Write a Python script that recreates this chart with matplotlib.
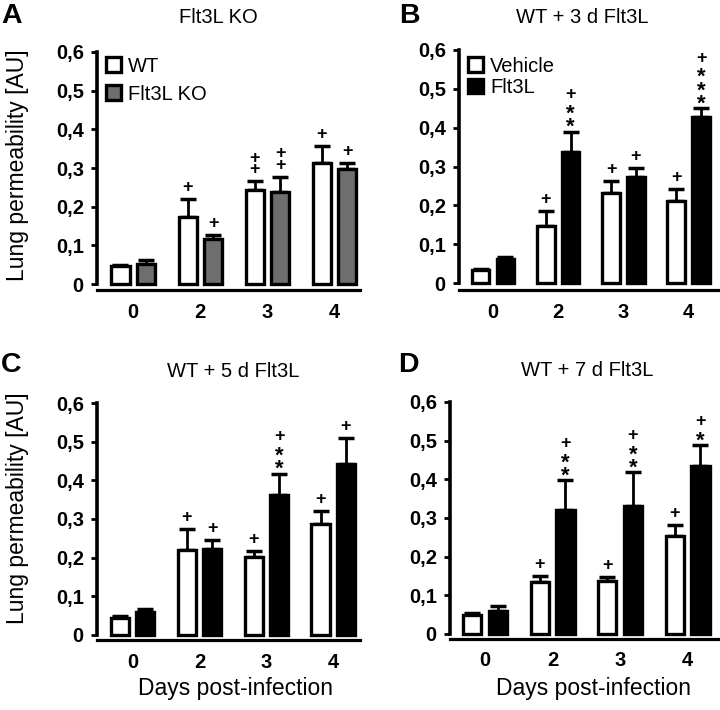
import matplotlib
matplotlib.use("Agg")
import matplotlib.pyplot as plt
from matplotlib.patches import Patch
import numpy as np

plt.rcParams['font.family'] = ['Liberation Sans', 'DejaVu Sans']

# ---------------- data ----------------
days = ['0', '2', '3', '4']
ytick_vals = [0, 0.1, 0.2, 0.3, 0.4, 0.5, 0.6]
ytick_labels = ['0', '0,1', '0,2', '0,3', '0,4', '0,5', '0,6']

A_wt = [0.047, 0.172, 0.243, 0.314]
A_wt_err = [0.003, 0.049, 0.023, 0.043]
A_ko = [0.053, 0.116, 0.238, 0.297]
A_ko_err = [0.009, 0.012, 0.039, 0.017]
A_wt_sig = ['', '+', '++', '+']
A_ko_sig = ['', '+', '++', '+']

B_veh = [0.034, 0.148, 0.233, 0.210]
B_veh_err = [0.002, 0.038, 0.030, 0.033]
B_flt = [0.063, 0.338, 0.272, 0.427]
B_flt_err = [0.004, 0.052, 0.025, 0.023]
B_veh_sig = ['', '+', '+', '+']
B_flt_sig = ['', '+**', '+', '+***']

C_veh = [0.045, 0.221, 0.202, 0.288]
C_veh_err = [0.004, 0.054, 0.016, 0.033]
C_flt = [0.060, 0.222, 0.361, 0.442]
C_flt_err = [0.006, 0.023, 0.056, 0.068]
C_veh_sig = ['', '+', '+', '+']
C_flt_sig = ['', '+', '+**', '+']

D_veh = [0.048, 0.135, 0.137, 0.253]
D_veh_err = [0.005, 0.015, 0.011, 0.028]
D_flt = [0.060, 0.321, 0.330, 0.434]
D_flt_err = [0.013, 0.076, 0.088, 0.054]
D_veh_sig = ['', '+', '+', '+']
D_flt_sig = ['', '+**', '+**', '+*']

W, H = 720, 710
fig = plt.figure(figsize=(W / 100, H / 100), dpi=100)


def px_axes(left, right, top, bottom):
    return fig.add_axes([left / W, 1 - bottom / H, (right - left) / W, (bottom - top) / H])


PLUS_FS = 13
STAR_FS = 16
EM_P = PLUS_FS / 0.72
EM_S = STAR_FS / 0.72


def put(ax, x, ytop, txt, off_px, va, fs, ls=1.0):
    ax.annotate(txt, xy=(x, ytop), xytext=(0, off_px * 0.72), textcoords='offset points',
                ha='center', va=va, fontsize=fs, fontweight='bold', color='black',
                linespacing=ls)


def draw_sig(ax, x, ytop, sig):
    if not sig:
        return
    n_star = sig.count('*')
    n_plus = sig.count('+')
    if n_star:
        pitch = 13.0
        ls = (pitch - 0.21 * EM_S) / (0.73 * EM_S)
        base = 11.0
        put(ax, x, ytop, '\n'.join(['*'] * n_star), base - 0.78 * EM_S, 'bottom', STAR_FS, ls)
        top_star = base + (n_star - 1) * pitch
        put(ax, x, ytop, '+', top_star + 15 - 0.35 * EM_P, 'baseline', PLUS_FS)
    else:
        pitch = 11.5
        ls = (pitch - 0.21 * EM_P) / (0.73 * EM_P)
        put(ax, x, ytop, '\n'.join(['+'] * n_plus), 13 - 0.56 * EM_P, 'bottom', PLUS_FS, ls)


def panel(rect, xlim, ymin, s1, e1, s2, e2, sig1, sig2, fill2, title, letter,
          title_xy, letter_xy, ylabel, xlabel):
    ax = px_axes(*rect)
    x = np.arange(len(days))
    off, w = 0.19, 0.27
    for xs, vals, errs, fc in [(x - off, s1, e1, 'white'), (x + off, s2, e2, fill2)]:
        ax.errorbar(xs, vals, yerr=[np.zeros(len(vals)), errs], fmt='none', ecolor='black',
                    elinewidth=2, capsize=5.5, capthick=2.5, zorder=1)
        ax.bar(xs, vals, width=w, color=fc, edgecolor='black', linewidth=2.4, zorder=2)
    for xi, v, e, s in zip(x - off, s1, e1, sig1):
        draw_sig(ax, xi, v + e, s)
    for xi, v, e, s in zip(x + off, s2, e2, sig2):
        draw_sig(ax, xi, v + e, s)
    ax.set_xlim(*xlim)
    ax.set_ylim(ymin, 0.6)
    for sp in ['top', 'right']:
        ax.spines[sp].set_visible(False)
    ax.spines['left'].set_linewidth(2.6)
    ax.spines['left'].set_bounds(0, 0.6)
    ax.spines['bottom'].set_linewidth(2.3)
    ax.set_yticks(ytick_vals)
    ax.set_yticklabels(ytick_labels, fontweight='bold', fontsize=14.5)
    ax.set_xticks(x)
    ax.set_xticklabels(days, fontweight='bold', fontsize=14.5)
    ax.tick_params(axis='y', length=4.5, width=2, pad=5)
    ax.tick_params(axis='x', length=0, pad=9)
    fig.text(title_xy[0] / W, 1 - title_xy[1] / H, title, ha='center', va='baseline', fontsize=14.5)
    fig.text(letter_xy[0] / W, 1 - letter_xy[1] / H, letter, ha='left', va='baseline',
             fontsize=20.5, fontweight='bold')
    if ylabel:
        fig.text(18 / W, 1 - ylabel / H, 'Lung permeability [AU]', rotation=90,
                 ha='center', va='center', fontsize=16.5)
    if xlabel:
        fig.text(xlabel[0] / W, 1 - xlabel[1] / H, 'Days post-infection', ha='center',
                 va='center', fontsize=16.5)
    return ax


axA = panel((97, 360, 52, 290), (-0.54, 3.38), -0.0155, A_wt, A_wt_err, A_ko, A_ko_err,
            A_wt_sig, A_ko_sig, '#6e6e6e', 'Flt3L KO', 'A', (218, 23), (1, 23), 165, None)
axB = panel((459, 718, 50, 290), (-0.52, 3.45), -0.018, B_veh, B_veh_err, B_flt, B_flt_err,
            B_veh_sig, B_flt_sig, 'black', 'WT + 3 d Flt3L', 'B', (582, 23), (399, 23), None, None)
axC = panel((97, 360, 403, 640), (-0.53, 3.4), -0.013, C_veh, C_veh_err, C_flt, C_flt_err,
            C_veh_sig, C_flt_sig, 'black', 'WT + 5 d Flt3L', 'C', (233, 377), (1, 372), 508, (235, 688))
axD = panel((450, 718, 402, 639), (-0.52, 3.45), -0.013, D_veh, D_veh_err, D_flt, D_flt_err,
            D_veh_sig, D_flt_sig, 'black', 'WT + 7 d Flt3L', 'D', (587, 376), (398, 372), None, (593, 688))

for ax, labels, fc2, sp, top in [(axA, ['WT', 'Flt3L KO'], '#6e6e6e', 0.45, 1.04),
                                 (axB, ['Vehicle', 'Flt3L'], 'black', 0.1, 1.03)]:
    handles = [Patch(facecolor='white', edgecolor='black', linewidth=2.4),
               Patch(facecolor=fc2, edgecolor='black', linewidth=2.4)]
    ax.legend(handles, labels, loc='upper left', bbox_to_anchor=(-0.02, top), frameon=False,
              fontsize=14.5, handlelength=0.75, handleheight=0.75, handletextpad=0.35,
              labelspacing=sp, borderaxespad=0.3)

fig.savefig('out.png', dpi=100)
